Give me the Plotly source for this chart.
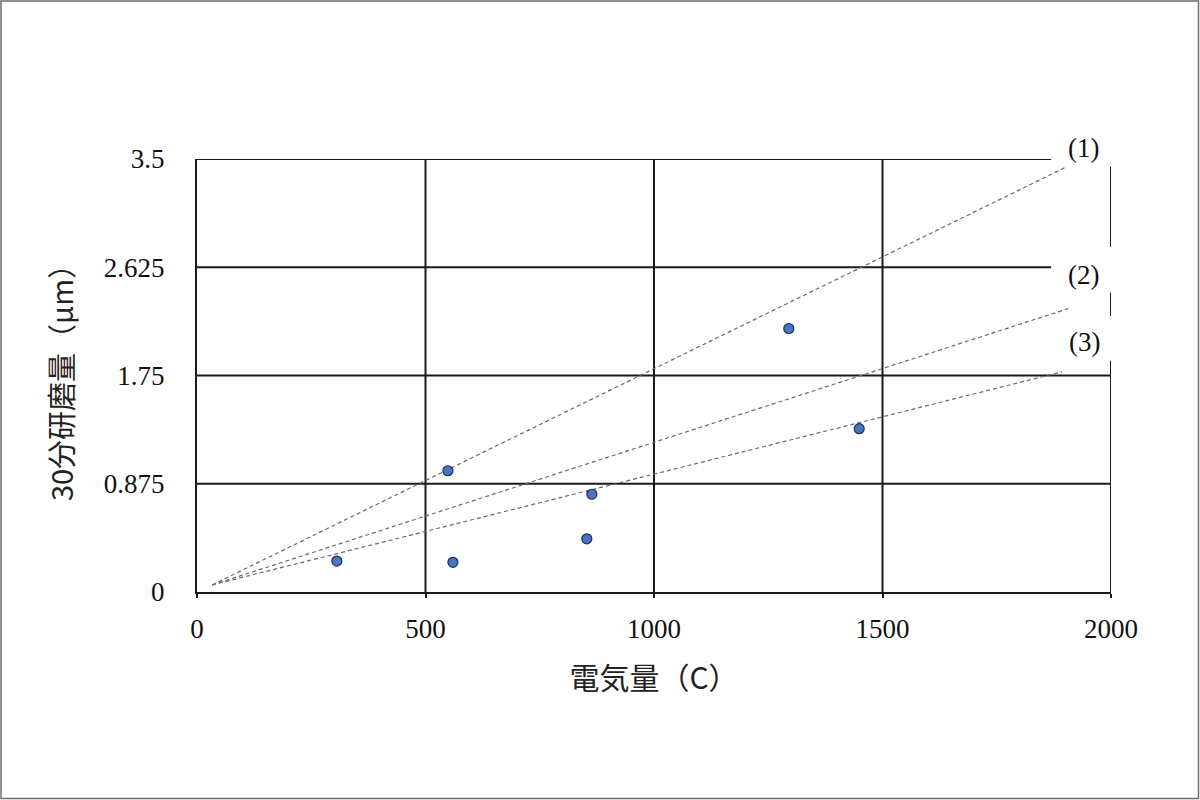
import plotly.graph_objects as go

# ---- data ----
charge_C = [306, 549, 560, 853, 864, 1295, 1449]
removal_um = [0.25, 0.98, 0.24, 0.43, 0.79, 2.13, 1.32]

line_names = ["(1)", "(2)", "(3)"]
line_x = [[33, 1899], [33, 1906], [33, 1893]]
line_y = [[0.057, 3.43], [0.057, 2.29], [0.057, 1.78]]
label_x = [1939, 1939, 1943]
label_y = [3.59, 2.56, 2.02]

x_ticks = [0, 500, 1000, 1500, 2000]
y_ticks = [0, 0.875, 1.75, 2.625, 3.5]
y_tick_text = ["0", "0.875", "1.75", "2.625", "3.5"]
grid_end_x = [2000, 2000, 2000, 1869, 1869]   # upper gridlines stop before labels
right_axis_segments = [[0, 1.87], [2.23, 2.42], [2.79, 3.44]]

x_title = "電気量（C）"
y_title = "30分研磨量（μm）"

SERIF = "Liberation Serif, Times New Roman, serif"
CJK = "Noto Sans CJK JP, Noto Sans, sans-serif"
GRID = "#1a1a1a"
Y_MAX = y_ticks[-1]

fig = go.Figure()

for xs, ys in zip(line_x, line_y):
    fig.add_trace(go.Scatter(
        x=xs, y=ys, mode="lines",
        line=dict(color="#6a6a6a", width=1.2, dash="4px,3px"),
        showlegend=False, hoverinfo="skip"))

fig.add_trace(go.Scatter(
    x=charge_C, y=removal_um, mode="markers",
    marker=dict(size=10, color="#4a74c0", line=dict(color="#1c2f55", width=1.2)),
    showlegend=False))

shapes = []
for yv, xe in zip(y_ticks[1:], grid_end_x[1:]):
    shapes.append(dict(type="line", xref="x", yref="y", x0=0, x1=xe, y0=yv, y1=yv,
                       line=dict(color=GRID, width=2), layer="below"))
for xv in x_ticks[1:-1]:
    shapes.append(dict(type="line", xref="x", yref="y", x0=xv, x1=xv, y0=0, y1=Y_MAX,
                       line=dict(color=GRID, width=2), layer="below"))
for y0, y1 in right_axis_segments:
    shapes.append(dict(type="line", xref="x", yref="y", x0=x_ticks[-1], x1=x_ticks[-1], y0=y0, y1=y1,
                       line=dict(color=GRID, width=2), layer="below"))
L, R, T, B = 197, 89, 159, 208
PW, PH = 1200 - L - R, 800 - T - B
shapes.append(dict(type="rect", xref="paper", yref="paper",
                   x0=-(L - 1) / PW, x1=1 + (R - 1.5) / PW,
                   y0=-(B - 1.5) / PH, y1=1 + (T - 1) / PH,
                   line=dict(color="#6e6e6e", width=1.5), fillcolor="rgba(0,0,0,0)"))

annotations = []
for name, ax_, ay_ in zip(line_names, label_x, label_y):
    annotations.append(dict(x=ax_, y=ay_ / Y_MAX, xref="x", yref="paper", text=name, showarrow=False,
                            xanchor="center", yanchor="middle",
                            font=dict(family=SERIF, size=27, color="#111")))

fig.update_layout(
    width=1200, height=800,
    margin=dict(l=L, r=R, t=T, b=B, autoexpand=False),
    paper_bgcolor="white", plot_bgcolor="white",
    shapes=shapes, annotations=annotations,
    xaxis=dict(range=[0, 2000], tickvals=x_ticks, ticktext=[str(v) for v in x_ticks],
               showgrid=False, zeroline=False, showline=True, linecolor=GRID, linewidth=2,
               ticks="outside", ticklen=4, tickwidth=2, tickcolor=GRID,
               ticklabelstandoff=8,
               tickfont=dict(family=SERIF, size=27, color="#111"),
               title=dict(text=x_title, font=dict(family=CJK, size=30, color="#222"), standoff=25),
               automargin=False),
    yaxis=dict(range=[0, Y_MAX], tickvals=y_ticks, ticktext=y_tick_text,
               showgrid=False, zeroline=False, showline=True, linecolor=GRID, linewidth=2,
               ticks="", ticklabelstandoff=25,
               tickfont=dict(family=SERIF, size=27, color="#111"),
               title=dict(text=y_title, font=dict(family=CJK, size=29, color="#222"), standoff=22),
               automargin=False),
)

fig.write_html("out.html", config={"displayModeBar": False},
               post_script="document.body.style.margin='0';document.body.style.overflow='hidden';")
